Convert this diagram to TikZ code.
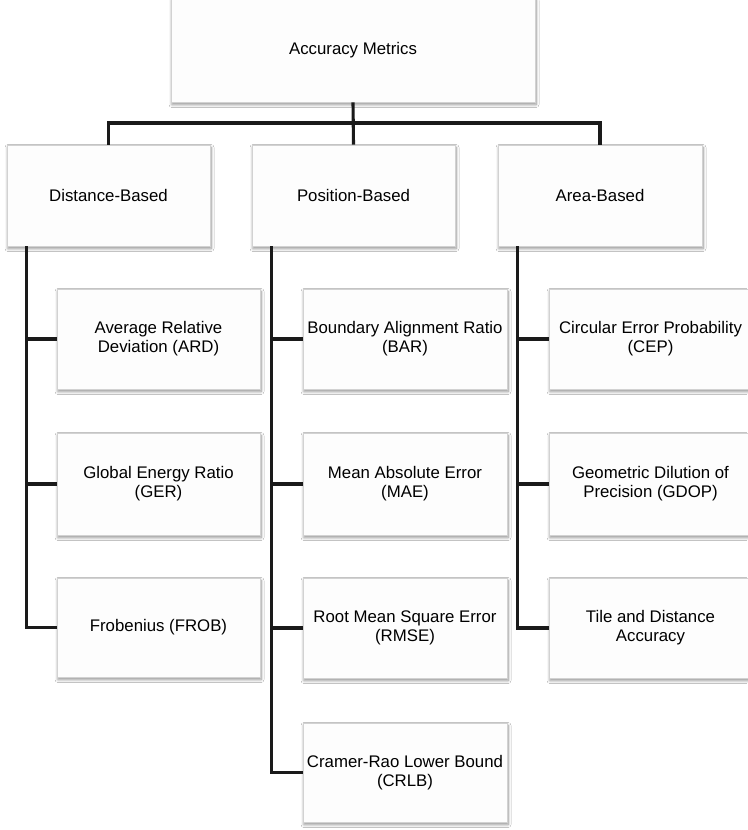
\documentclass[tikz,border=0pt]{standalone}
\usepackage{fontspec}
\setmainfont{Liberation Sans}
\usetikzlibrary{shadows.blur}
\definecolor{boxline}{HTML}{D2D2D2}
\definecolor{boxfill}{HTML}{FDFDFD}
\definecolor{wire}{HTML}{1A1A1A}
\tikzset{
  metric/.style={draw=boxline, line width=0.9pt, fill=boxfill, rectangle,
    inner sep=0pt, align=center,
    font=\fontsize{16.8}{19}\selectfont,
    blur shadow={shadow xshift=1pt, shadow yshift=-2.5pt,
      shadow blur radius=3pt, shadow blur steps=6, shadow opacity=45}},
  tier/.style={metric, minimum width=203pt, minimum height=101pt},
  leaf/.style={metric, minimum width=203pt, minimum height=100pt},
  link/.style={draw=wire, line width=3.1pt}
}
\begin{document}
\begin{tikzpicture}[x=1pt, y=-1pt]
  \useasboundingbox[fill=white] (0,0) rectangle (747,830);

  % root
  \node[metric, minimum width=364pt, minimum height=104pt] (root) at (353,50) {Accuracy Metrics};

  % categories
  \node[tier] (dist) at (108.5,195.5) {Distance-Based};
  \node[tier] (pos)  at (353.5,195.5) {Position-Based};
  \node[tier, minimum width=204pt] (area) at (600,195.5) {Area-Based};

  % distance-based metrics
  \node[leaf] (ard)  at (158.5,339)   {Average Relative\\Deviation (ARD)};
  \node[leaf, minimum height=102pt] (ger)  at (158.5,484) {Global Energy Ratio\\(GER)};
  \node[leaf, minimum height=99pt] (frob) at (158.5,627.5) {Frobenius (FROB)};

  % position-based metrics
  \node[leaf, minimum width=204pt] (bar)  at (405,339)   {Boundary Alignment Ratio\\(BAR)};
  \node[leaf, minimum width=204pt, minimum height=102pt] (mae) at (405,484) {Mean Absolute Error\\(MAE)};
  \node[leaf, minimum width=204pt] (rmse) at (405,628)   {Root Mean Square Error\\(RMSE)};
  \node[leaf, minimum width=204pt, minimum height=99pt] (crlb) at (405,772.5) {Cramer-Rao Lower Bound\\(CRLB)};

  % area-based metrics
  \node[leaf] (cep)  at (650.5,339) {Circular Error Probability\\(CEP)};
  \node[leaf, minimum height=102pt] (gdop) at (650.5,484) {Geometric Dilution of\\Precision (GDOP)};
  \node[leaf] (tile) at (650.5,628) {Tile and Distance\\Accuracy};

  % top bus
  \coordinate (bus) at (0,123);
  \draw[link] (root.south) -- (pos.north);
  \draw[link] (dist.north) -- (dist.north |- bus) -| (area.north);

  % trunks
  \coordinate (dtrunk) at ([xshift=20pt]dist.south west);
  \coordinate (ptrunk) at ([xshift=20pt]pos.south west);
  \coordinate (atrunk) at ([xshift=20pt]area.south west);

  \draw[link] (dtrunk) |- (frob.west);
  \draw[link] (dtrunk |- ard.west) -- (ard.west);
  \draw[link] (dtrunk |- ger.west) -- (ger.west);

  \draw[link] (ptrunk) |- (crlb.west);
  \draw[link] (ptrunk |- bar.west) -- (bar.west);
  \draw[link] (ptrunk |- mae.west) -- (mae.west);
  \draw[link] (ptrunk |- rmse.west) -- (rmse.west);

  \draw[link] (atrunk) |- (tile.west);
  \draw[link] (atrunk |- cep.west) -- (cep.west);
  \draw[link] (atrunk |- gdop.west) -- (gdop.west);
\end{tikzpicture}
\end{document}
